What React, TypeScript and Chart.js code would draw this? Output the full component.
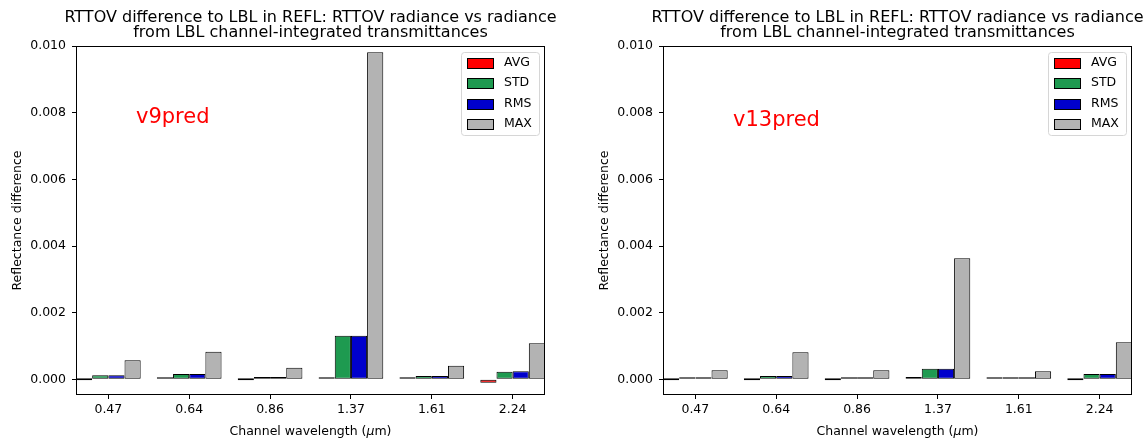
import React, { useEffect, useRef } from 'react';
import { Chart, registerables } from 'chart.js';

Chart.register(...registerables);

// ---------- data ----------
const categories = ['0.47', '0.64', '0.86', '1.37', '1.61', '2.24'];
const seriesNames = ['AVG', 'STD', 'RMS', 'MAX'];
const seriesColors = ['#ff0000', '#1e9a50', '#0000cc', '#b3b3b3'];
const yTicks = [0, 0.002, 0.004, 0.006, 0.008, 0.01];
const yMin = -0.00047;
const yMax = 0.01;

const v9Avg = [0.0, 0.00001, 0.0, 0.00002, 0.00003, -0.0001];
const v9Std = [0.00012, 0.00016, 0.00007, 0.00131, 0.0001, 0.00023];
const v9Rms = [0.00012, 0.00016, 0.00007, 0.00131, 0.0001, 0.00024];
const v9Max = [0.00057, 0.00083, 0.00035, 0.00981, 0.00041, 0.00108];

const v13Avg = [0.0, 0.0, 0.0, 0.00007, 0.00003, 0.0];
const v13Std = [0.00002, 0.0001, 0.00005, 0.00032, 0.00006, 0.00016];
const v13Rms = [0.00002, 0.0001, 0.00005, 0.00032, 0.00006, 0.00016];
const v13Max = [0.00027, 0.00081, 0.00027, 0.00363, 0.00024, 0.00111];

const titleLines = [
  'RTTOV difference to LBL in REFL: RTTOV radiance vs radiance',
  'from LBL channel-integrated transmittances',
];
const yLabel = 'Reflectance difference';

const FONT = '"DejaVu Sans", "Liberation Sans", sans-serif';

type PanelCfg = {
  note: string;
  noteDx: number;
  noteY: number;
  series: number[][];
};

const panels: PanelCfg[] = [
  { note: 'v9pred', noteDx: 60, noteY: 123, series: [v9Avg, v9Std, v9Rms, v9Max] },
  { note: 'v13pred', noteDx: 70, noteY: 126, series: [v13Avg, v13Std, v13Rms, v13Max] },
];

const PLOT_RIGHT = 545; // chart area right edge within each canvas

function makeDecor(cfg: PanelCfg) {
  return {
    id: 'decor',
    afterDraw(chart: any) {
      const { ctx, chartArea: a } = chart;
      const cx = (a.left + a.right) / 2;
      ctx.save();

      // frame (spines)
      ctx.strokeStyle = '#000';
      ctx.lineWidth = 1;
      ctx.strokeRect(Math.round(a.left) + 0.5, Math.round(a.top) + 0.5,
        Math.round(a.right - a.left) - 1, Math.round(a.bottom - a.top) - 1);

      // title
      ctx.fillStyle = '#000';
      ctx.font = `16px ${FONT}`;
      ctx.textAlign = 'center';
      ctx.textBaseline = 'alphabetic';
      ctx.fillText(titleLines[0], cx, 21.5);
      ctx.fillText(titleLines[1], cx, 37);

      // x label with italic mu
      const parts = [
        { t: 'Channel wavelength (', f: `12.5px ${FONT}` },
        { t: 'μ', f: `italic 12.5px ${FONT}` },
        { t: 'm)', f: `12.5px ${FONT}` },
      ];
      let total = 0;
      for (const p of parts) { ctx.font = p.f; total += ctx.measureText(p.t).width; }
      let x = cx - total / 2;
      ctx.textAlign = 'left';
      for (const p of parts) {
        ctx.font = p.f;
        ctx.fillText(p.t, x, 435);
        x += ctx.measureText(p.t).width;
      }

      // y label
      ctx.save();
      ctx.translate(21, (a.top + a.bottom) / 2);
      ctx.rotate(-Math.PI / 2);
      ctx.font = `12.5px ${FONT}`;
      ctx.textAlign = 'center';
      ctx.textBaseline = 'alphabetic';
      ctx.fillText(yLabel, 0, 0);
      ctx.restore();

      // annotation
      ctx.fillStyle = '#ff0000';
      ctx.font = `21px ${FONT}`;
      ctx.textAlign = 'left';
      ctx.fillText(cfg.note, a.left + cfg.noteDx, cfg.noteY);

      // legend
      const lx0 = a.right - 84, lx1 = a.right - 6;
      const ly0 = a.top + 6, ly1 = a.top + 89;
      ctx.beginPath();
      ctx.roundRect(lx0 + 0.5, ly0 + 0.5, lx1 - lx0, ly1 - ly0, 3);
      ctx.fillStyle = 'rgba(255,255,255,0.8)';
      ctx.fill();
      ctx.strokeStyle = '#d6d6d6';
      ctx.lineWidth = 1;
      ctx.stroke();
      chart.data.datasets.forEach((ds: any, i: number) => {
        const cy = a.top + 16.7 + i * 20.4;
        ctx.fillStyle = ds.backgroundColor;
        ctx.fillRect(a.right - 78, Math.round(cy - 5), 26, 10);
        ctx.strokeStyle = '#000';
        ctx.strokeRect(a.right - 78 + 0.5, Math.round(cy - 5) + 0.5, 26, 10);
        ctx.fillStyle = '#000';
        ctx.font = `12.5px ${FONT}`;
        ctx.textAlign = 'left';
        ctx.textBaseline = 'middle';
        ctx.fillText(ds.label, a.right - 41, cy);
      });

      ctx.restore();
    },
  };
}

function Panel({ cfg, left, width }: { cfg: PanelCfg; left: number; width: number }) {
  const ref = useRef<HTMLCanvasElement>(null);
  useEffect(() => {
    const tickFont = { family: FONT, size: 12.5 };
    const chart = new Chart(ref.current as HTMLCanvasElement, {
      type: 'bar',
      data: {
        datasets: seriesNames.map((name, k) => ({
          label: name,
          data: categories.map((_, i) => ({ x: i, y: cfg.series[k][i] })),
          backgroundColor: seriesColors[k],
          borderColor: '#000',
          borderWidth: 1,
          borderSkipped: false,
          minBarLength: 2,
          categoryPercentage: 0.8,
          barPercentage: 1.0,
        })) as any,
      },
      options: {
        responsive: false,
        animation: false,
        devicePixelRatio: 1,
        layout: { padding: { left: 0, right: width - PLOT_RIGHT, top: 46, bottom: 0 } },
        plugins: {
          legend: { display: false },
          tooltip: { enabled: false },
          title: { display: false },
        },
        scales: {
          x: {
            type: 'linear',
            min: -0.4,
            max: 5.4,
            offset: false,
            afterBuildTicks: (s: any) => { s.ticks = categories.map((_, i) => ({ value: i })); },
            afterFit: (s: any) => { s.height = 46; },
            ticks: {
              callback: (v: any) => categories[v] ?? '',
              font: tickFont,
              color: '#000',
              padding: 3,
              autoSkip: false,
              maxRotation: 0,
              minRotation: 0,
            },
            grid: { drawOnChartArea: false, drawTicks: true, tickLength: 4, tickColor: '#000', offset: false },
            border: { display: false },
          },
          y: {
            type: 'linear',
            min: yMin,
            max: yMax,
            afterBuildTicks: (s: any) => { s.ticks = yTicks.map((v) => ({ value: v })); },
            afterFit: (s: any) => { s.width = 76; },
            ticks: {
              callback: (v: any) => Number(v).toFixed(3),
              font: tickFont,
              color: '#000',
              padding: 6,
            },
            grid: { drawOnChartArea: false, drawTicks: true, tickLength: 4, tickColor: '#000' },
            border: { display: false },
          },
        },
      } as any,
      plugins: [makeDecor(cfg)],
    });
    return () => chart.destroy();
  }, []);
  return (
    <canvas
      ref={ref}
      width={width}
      height={441}
      style={{ position: 'absolute', left, top: 0, width, height: 441 }}
    />
  );
}

export default function App() {
  return (
    <div style={{ position: 'absolute', left: 0, top: 0, width: 1148, height: 441, background: '#fff', overflow: 'hidden' }}>
      <Panel cfg={panels[0]} left={0} width={574} />
      <Panel cfg={panels[1]} left={587} width={561} />
    </div>
  );
}
